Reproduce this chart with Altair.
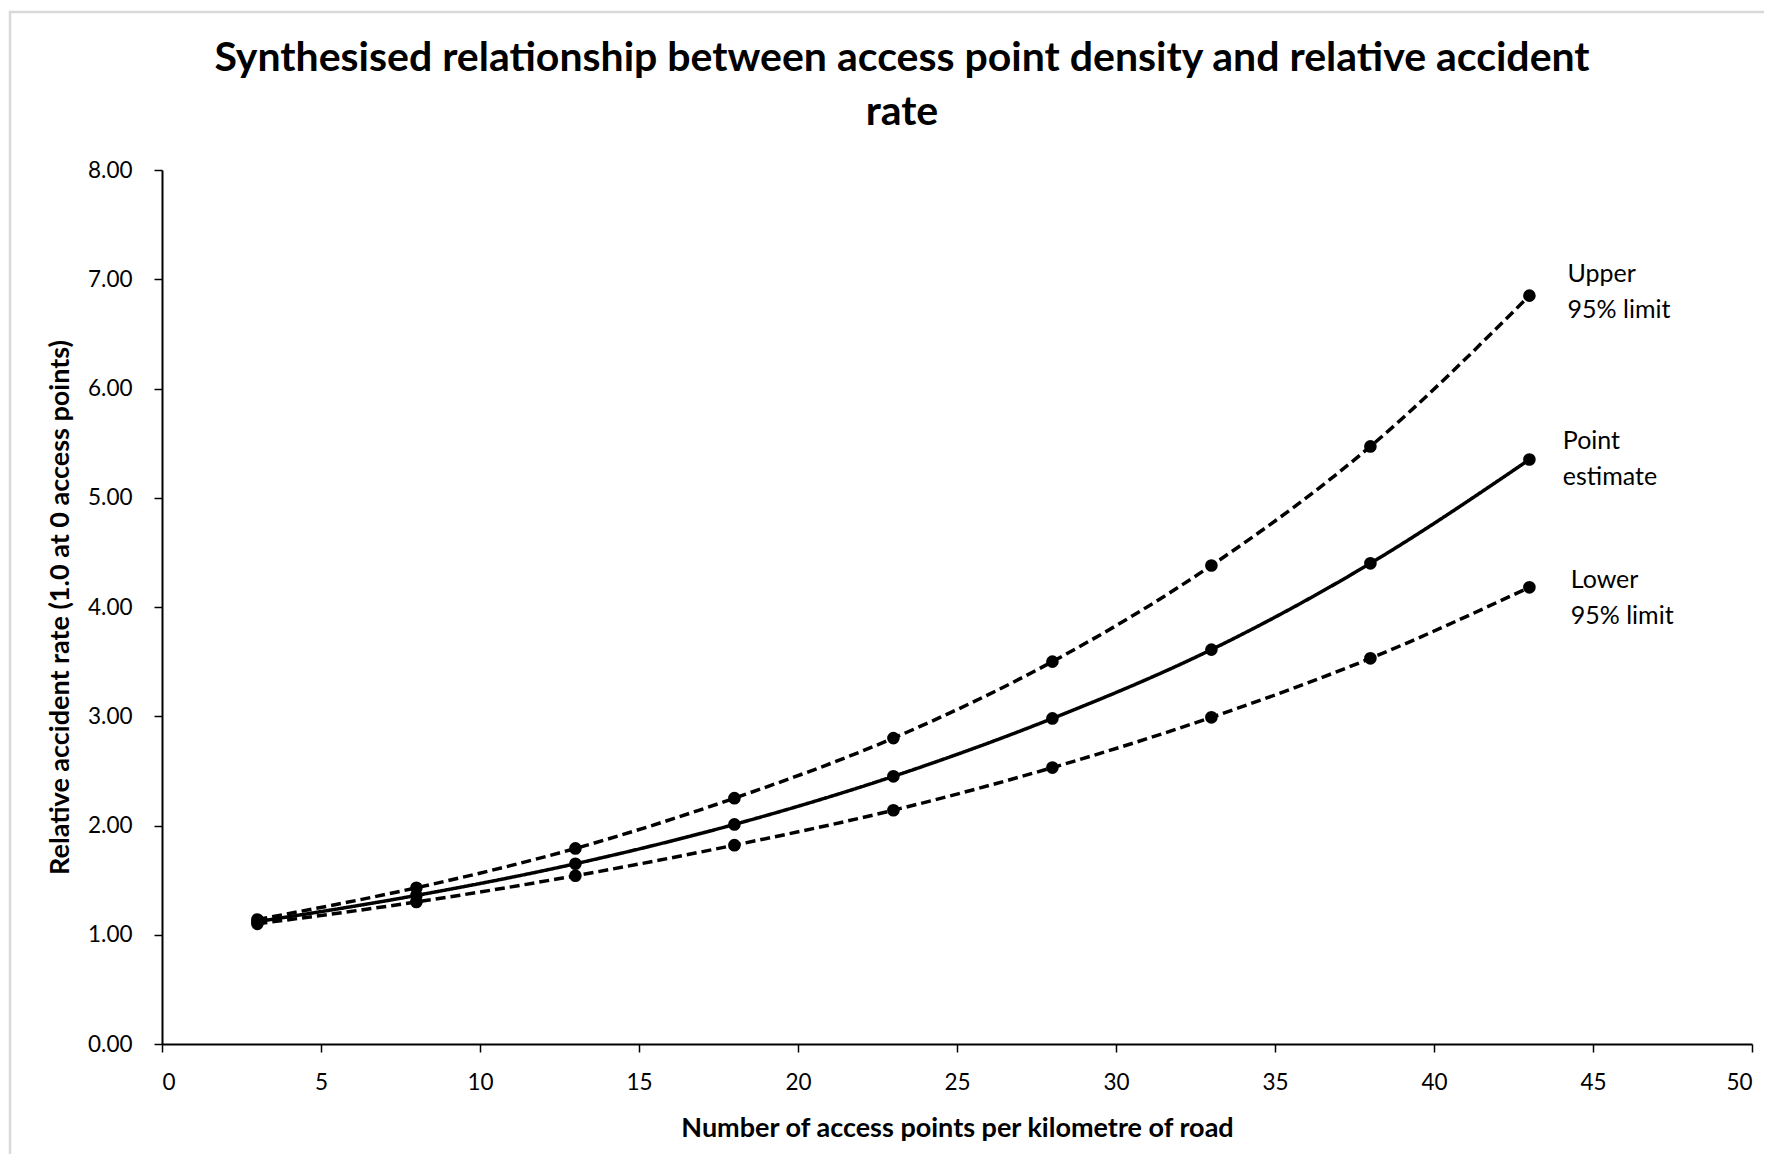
import altair as alt
import pandas as pd

# ---- data ----
access_points = [3, 8, 13, 18, 23, 28, 33, 38, 43]
point_estimate = [1.12, 1.36, 1.65, 2.01, 2.45, 2.98, 3.61, 4.40, 5.35]
upper_limit = [1.14, 1.43, 1.79, 2.25, 2.80, 3.50, 4.38, 5.47, 6.85]
lower_limit = [1.10, 1.30, 1.54, 1.82, 2.14, 2.53, 2.99, 3.53, 4.18]

series_names = ["Upper 95% limit", "Point estimate", "Lower 95% limit"]

label_texts = [["Upper", "95% limit"], ["Point", "estimate"], ["Lower", "95% limit"]]
label_x = [44.2, 44.05, 44.3]
label_y = [7.05, 5.52, 4.25]

x_ticks = [0, 5, 10, 15, 20, 25, 30, 35, 40, 45, 50]
y_ticks = [0, 1, 2, 3, 4, 5, 6, 7, 8]

rows = []
for name, vals in zip(series_names, [upper_limit, point_estimate, lower_limit]):
    for xv, yv in zip(access_points, vals):
        rows.append({"series": name, "x": xv, "y": yv})
df = pd.DataFrame(rows)

labels_df = pd.DataFrame({
    "series": series_names,
    "text": label_texts,
    "x": label_x,
    "y": label_y,
})

FONT = "Lato"

x_enc = alt.X(
    "x:Q",
    scale=alt.Scale(domain=[0, 50], nice=False),
    axis=alt.Axis(
        values=x_ticks,
        title="Number of access points per kilometre of road",
        grid=False,
        tickSize=8,
        labelPadding=19,
        titlePadding=22,
    ),
)
y_enc = alt.Y(
    "y:Q",
    scale=alt.Scale(domain=[0, 8], nice=False),
    axis=alt.Axis(
        values=y_ticks,
        format=".2f",
        title="Relative accident rate (1.0 at 0 access points)",
        grid=False,
        tickSize=8,
        labelPadding=22,
        titlePadding=13,
    ),
)

dash_scale = alt.Scale(
    domain=series_names,
    range=[[10, 5], [1, 0], [10, 5]],
)

# light grey frame around the whole chart area (decoration)
frame = alt.Chart(pd.DataFrame({"f": [0]})).mark_rect(
    fillOpacity=0, stroke="#d9d9d9", strokeWidth=2.5
).encode(
    x=alt.value(-152), x2=alt.value(1640),
    y=alt.value(-158), y2=alt.value(1000),
)

lines = alt.Chart(df).mark_line(
    color="black", strokeWidth=3.5, interpolate="monotone"
).encode(
    x=x_enc,
    y=y_enc,
    detail="series:N",
    strokeDash=alt.StrokeDash("series:N", scale=dash_scale, legend=None),
)

points = alt.Chart(df).mark_point(
    filled=True, shape="circle", color="black", size=160, opacity=1
).encode(x="x:Q", y="y:Q")

labels = alt.Chart(labels_df).mark_text(
    align="left", baseline="middle", fontSize=25, font=FONT,
    color="black", lineHeight=36,
).encode(x="x:Q", y="y:Q", text="text")

chart = alt.layer(frame, lines, points, labels).properties(
    width=1590,
    height=874,
    background="white",
    title=alt.TitleParams(
        text=["Synthesised relationship between access point density and relative accident", "rate"],
        fontSize=41,
        font=FONT,
        fontWeight="bold",
        color="black",
        anchor="middle",
        frame="group",
        dx=-55,
        lineHeight=54,
        offset=-123,
    ),
    autosize=alt.AutoSizeParams(type="none"),
    padding={"left": 154, "top": 162, "right": 12, "bottom": 110},
).configure_view(stroke=None).configure_axis(
    domainColor="black",
    domainWidth=2,
    tickColor="black",
    tickWidth=1.5,
    labelFont=FONT,
    labelFontSize=22.5,
    labelColor="black",
    titleFont=FONT,
    titleFontSize=27,
    titleFontWeight="bold",
    titleColor="black",
)

chart.save("out.html", embed_options={"renderer": "svg", "actions": False})
